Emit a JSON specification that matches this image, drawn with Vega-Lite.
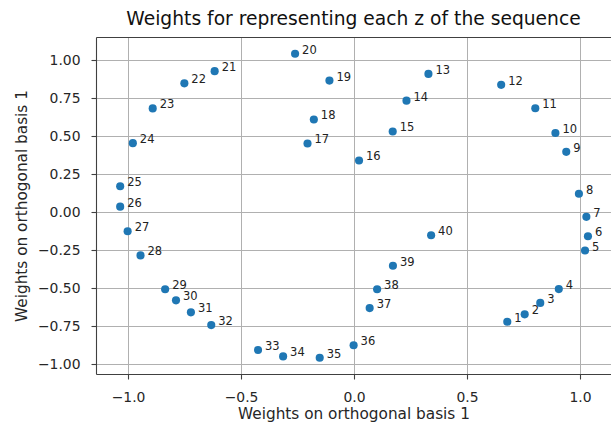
{
  "$schema": "https://vega.github.io/schema/vega-lite/v6.json",
  "autosize": "none",
  "width": 515,
  "height": 337,
  "padding": {"left": 96, "top": 37, "right": 0, "bottom": 48},
  "background": "white",
  "config": {
    "view": {"stroke": null},
    "font": "DejaVu Sans",
    "axis": {
      "labelFont": "DejaVu Sans",
      "titleFont": "DejaVu Sans",
      "labelFontSize": 13.9,
      "titleFontSize": 15.3,
      "titleFontWeight": "normal",
      "labelColor": "#262626",
      "titleColor": "#262626",
      "domainColor": "#404040",
      "domainWidth": 1.1,
      "tickColor": "#404040",
      "tickSize": 5,
      "tickWidth": 1.1,
      "gridColor": "#b0b0b0",
      "gridWidth": 1,
      "labelPadding": 11
    }
  },
  "title": {
    "text": "Weights for representing each z of the sequence",
    "font": "DejaVu Sans",
    "fontSize": 18.7,
    "fontWeight": "normal",
    "color": "#111111",
    "anchor": "middle",
    "baseline": "alphabetic",
    "offset": -7
  },
  "data": {
    "values": [
      {"n": 1, "x": 0.678, "y": -0.721},
      {"n": 2, "x": 0.755, "y": -0.672},
      {"n": 3, "x": 0.824, "y": -0.597},
      {"n": 4, "x": 0.906, "y": -0.506},
      {"n": 5, "x": 1.022, "y": -0.252},
      {"n": 6, "x": 1.035, "y": -0.158},
      {"n": 7, "x": 1.028, "y": -0.030},
      {"n": 8, "x": 0.995, "y": 0.122},
      {"n": 9, "x": 0.939, "y": 0.398},
      {"n": 10, "x": 0.891, "y": 0.522},
      {"n": 11, "x": 0.802, "y": 0.685},
      {"n": 12, "x": 0.651, "y": 0.839},
      {"n": 13, "x": 0.329, "y": 0.911},
      {"n": 14, "x": 0.232, "y": 0.735},
      {"n": 15, "x": 0.171, "y": 0.532},
      {"n": 16, "x": 0.022, "y": 0.341},
      {"n": 17, "x": -0.206, "y": 0.453},
      {"n": 18, "x": -0.178, "y": 0.611},
      {"n": 19, "x": -0.109, "y": 0.867},
      {"n": 20, "x": -0.261, "y": 1.044},
      {"n": 21, "x": -0.617, "y": 0.929},
      {"n": 22, "x": -0.751, "y": 0.849},
      {"n": 23, "x": -0.891, "y": 0.684},
      {"n": 24, "x": -0.979, "y": 0.455},
      {"n": 25, "x": -1.035, "y": 0.171},
      {"n": 26, "x": -1.035, "y": 0.037},
      {"n": 27, "x": -1.002, "y": -0.125},
      {"n": 28, "x": -0.945, "y": -0.284},
      {"n": 29, "x": -0.836, "y": -0.507},
      {"n": 30, "x": -0.788, "y": -0.580},
      {"n": 31, "x": -0.722, "y": -0.659},
      {"n": 32, "x": -0.632, "y": -0.743},
      {"n": 33, "x": -0.425, "y": -0.907},
      {"n": 34, "x": -0.314, "y": -0.949},
      {"n": 35, "x": -0.152, "y": -0.958},
      {"n": 36, "x": -0.002, "y": -0.876},
      {"n": 37, "x": 0.069, "y": -0.631},
      {"n": 38, "x": 0.102, "y": -0.507},
      {"n": 39, "x": 0.172, "y": -0.352},
      {"n": 40, "x": 0.341, "y": -0.151}
    ]
  },
  "resolve": {"axis": {"x": "independent", "y": "independent"}},
  "layer": [
    {
      "mark": {"type": "circle", "size": 66, "color": "#1f77b4", "opacity": 1},
      "encoding": {
        "x": {
          "field": "x", "type": "quantitative",
          "scale": {"domain": [-1.142, 1.137], "nice": false, "zero": false},
          "axis": {
            "title": "Weights on orthogonal basis 1",
            "values": [-1, -0.5, 0, 0.5, 1],
            "format": ".1f",
            "grid": true,
            "titlePadding": 3
          }
        },
        "y": {
          "field": "y", "type": "quantitative",
          "scale": {"domain": [-1.065, 1.154], "nice": false, "zero": false},
          "axis": {
            "title": "Weights on orthogonal basis 1",
            "values": [-1, -0.75, -0.5, -0.25, 0, 0.25, 0.5, 0.75, 1],
            "format": ".2f",
            "grid": true,
            "titlePadding": 8
          }
        }
      }
    },
    {
      "mark": {"type": "text", "align": "left", "baseline": "alphabetic", "dx": 7, "dy": 0, "fontSize": 11.5, "font": "DejaVu Sans", "color": "#222222"},
      "encoding": {
        "x": {
          "field": "x", "type": "quantitative",
          "axis": {"orient": "top", "title": null, "labels": false, "ticks": false, "grid": false, "domain": true}
        },
        "y": {
          "field": "y", "type": "quantitative",
          "axis": null
        },
        "text": {"field": "n", "type": "nominal"}
      }
    }
  ]
}
